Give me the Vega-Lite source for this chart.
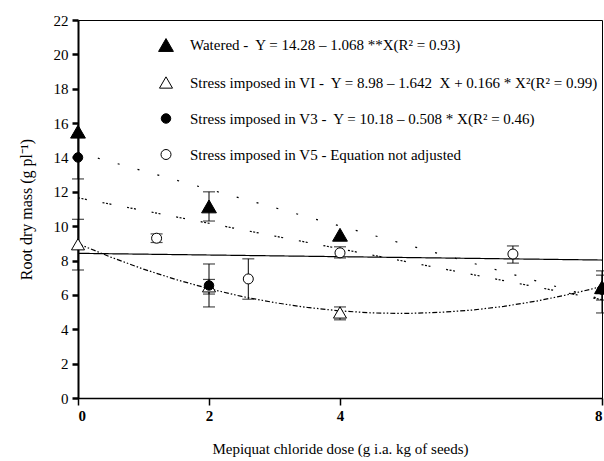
{
  "$schema": "https://vega.github.io/schema/vega-lite/v6.json",
  "width": 524,
  "height": 378,
  "autosize": {"type": "none"},
  "padding": {"left": 78, "top": 20, "right": 2, "bottom": 63},
  "background": "white",
  "config": {
    "view": {"stroke": "black", "strokeWidth": 1},
    "font": "Liberation Serif",
    "axis": {
      "grid": false,
      "domainColor": "black",
      "tickColor": "black",
      "labelColor": "black",
      "titleColor": "black",
      "labelFont": "Liberation Serif",
      "titleFont": "Liberation Serif",
      "titleFontWeight": "normal"
    },
    "legend": {
      "labelFont": "Liberation Serif",
      "labelFontSize": 15,
      "labelColor": "black",
      "labelLimit": 0,
      "symbolStrokeColor": "black",
      "symbolStrokeWidth": 1,
      "symbolOpacity": 1,
      "padding": 0
    }
  },
  "datasets": {
    "pts": [
      {"series": "V5", "dose": 1.2, "mass": 9.3},
      {"series": "V5", "dose": 2.6, "mass": 6.93},
      {"series": "V5", "dose": 4, "mass": 8.45},
      {"series": "V5", "dose": 6.64, "mass": 8.38},
      {"series": "VI", "dose": 0, "mass": 8.95},
      {"series": "VI", "dose": 2, "mass": 6.5},
      {"series": "VI", "dose": 4, "mass": 4.98},
      {"series": "VI", "dose": 8, "mass": 6.4},
      {"series": "V3", "dose": 0, "mass": 14.0},
      {"series": "V3", "dose": 2, "mass": 6.55},
      {"series": "V3", "dose": 8, "mass": 6.3},
      {"series": "Watered", "dose": 0, "mass": 15.5},
      {"series": "Watered", "dose": 2, "mass": 11.15},
      {"series": "Watered", "dose": 4, "mass": 9.5},
      {"series": "Watered", "dose": 8, "mass": 6.45}
    ],
    "errs": [
      {"series": "V5", "dose": 1.2, "lo": 9.05, "hi": 9.55},
      {"series": "V5", "dose": 2.6, "lo": 5.75, "hi": 8.1},
      {"series": "V5", "dose": 4, "lo": 8.15, "hi": 8.8},
      {"series": "V5", "dose": 6.64, "lo": 7.85, "hi": 8.85},
      {"series": "VI", "dose": 0, "lo": 7.45, "hi": 10.4},
      {"series": "VI", "dose": 2, "lo": 5.3, "hi": 7.8},
      {"series": "VI", "dose": 4, "lo": 4.55, "hi": 5.3},
      {"series": "V3", "dose": 0, "lo": 12.75, "hi": 15.3},
      {"series": "V3", "dose": 2, "lo": 6.05, "hi": 6.9},
      {"series": "V3", "dose": 8, "lo": 4.95, "hi": 7.4},
      {"series": "Watered", "dose": 2, "lo": 10.3, "hi": 12.0},
      {"series": "Watered", "dose": 8, "lo": 5.7, "hi": 7.15}
    ],
    "lines": [
      {"curve": "W", "dose": 0, "mass": 14.28},
      {"curve": "W", "dose": 8, "mass": 5.74},
      {"curve": "V3", "dose": 0, "mass": 11.65},
      {"curve": "V3", "dose": 8, "mass": 5.72},
      {"curve": "V5", "dose": 0, "mass": 8.42},
      {"curve": "V5", "dose": 8, "mass": 8.03},
      {"curve": "V1", "dose": 0, "mass": 8.98},
      {"curve": "V1", "dose": 0.5, "mass": 8.2},
      {"curve": "V1", "dose": 1, "mass": 7.5},
      {"curve": "V1", "dose": 1.5, "mass": 6.89},
      {"curve": "V1", "dose": 2, "mass": 6.36},
      {"curve": "V1", "dose": 2.5, "mass": 5.91},
      {"curve": "V1", "dose": 3, "mass": 5.55},
      {"curve": "V1", "dose": 3.5, "mass": 5.27},
      {"curve": "V1", "dose": 4, "mass": 5.07},
      {"curve": "V1", "dose": 4.5, "mass": 4.95},
      {"curve": "V1", "dose": 5, "mass": 4.92},
      {"curve": "V1", "dose": 5.5, "mass": 4.98},
      {"curve": "V1", "dose": 6, "mass": 5.11},
      {"curve": "V1", "dose": 6.5, "mass": 5.33},
      {"curve": "V1", "dose": 7, "mass": 5.64},
      {"curve": "V1", "dose": 7.5, "mass": 6.03},
      {"curve": "V1", "dose": 8, "mass": 6.49}
    ]
  },
  "encoding": {
    "x": {
      "field": "dose",
      "type": "quantitative",
      "title": "Mepiquat chloride dose (g i.a. kg of seeds)",
      "scale": {"domain": [0, 8], "nice": false, "zero": false},
      "axis": {
        "values": [0, 2, 4, 8],
        "labelFontSize": 15,
        "labelFontWeight": "bold",
        "tickSize": 7,
        "tickWidth": 1.5,
        "domainWidth": 1.5,
        "labelPadding": 3,
        "titleFontSize": 15,
        "titlePadding": 18
      }
    },
    "y": {
      "field": "mass",
      "type": "quantitative",
      "title": "Root dry mass (g pl⁻¹)",
      "scale": {"domain": [0, 22], "nice": false},
      "axis": {
        "values": [0, 2, 4, 6, 8, 10, 12, 14, 16, 18, 20, 22],
        "labelFontSize": 15,
        "tickSize": 6,
        "tickWidth": 2.5,
        "domainWidth": 2,
        "labelPadding": 4,
        "titleFontSize": 16,
        "titlePadding": 19
      }
    }
  },
  "layer": [
    {
      "data": {"name": "lines"},
      "mark": {"type": "line", "color": "black", "strokeWidth": 1.2},
      "encoding": {
        "strokeDash": {
          "field": "curve",
          "type": "nominal",
          "legend": null,
          "scale": {
            "domain": ["W", "V3", "V5", "V1"],
            "range": [[2, 18.6], [2, 1.5, 2, 1.5, 2, 16], [1, 0], [5, 2, 1.5, 2, 1.5, 2]]
          }
        }
      }
    },
    {
      "data": {"name": "errs"},
      "mark": {"type": "rule", "color": "black", "strokeWidth": 1},
      "encoding": {
        "y": {"field": "lo", "type": "quantitative", "title": "Root dry mass (g pl⁻¹)"},
        "y2": {"field": "hi"}
      }
    },
    {
      "data": {"name": "errs"},
      "mark": {"type": "tick", "orient": "horizontal", "color": "black", "size": 12, "thickness": 1.2},
      "encoding": {
        "y": {"field": "lo", "type": "quantitative", "title": "Root dry mass (g pl⁻¹)"}
      }
    },
    {
      "data": {"name": "errs"},
      "mark": {"type": "tick", "orient": "horizontal", "color": "black", "size": 12, "thickness": 1.2},
      "encoding": {
        "y": {"field": "hi", "type": "quantitative", "title": "Root dry mass (g pl⁻¹)"}
      }
    },
    {
      "data": {"name": "pts"},
      "mark": {"type": "point", "filled": true, "strokeWidth": 1, "opacity": 1},
      "encoding": {
        "shape": {
          "field": "series",
          "type": "nominal",
          "scale": {"domain": ["Watered", "VI", "V3", "V5"], "range": ["triangle-up", "triangle-up", "circle", "circle"]},
          "legend": {
            "title": null,
            "orient": "none",
            "legendX": 80,
            "legendY": 17,
            "rowPadding": 20,
            "labelOffset": 16,
            "labelExpr": "datum.label == 'Watered' ? 'Watered -\u00a0 Y = 14.28 – 1.068 **X(R² = 0.93)' : datum.label == 'VI' ? 'Stress imposed in VI -\u00a0 Y = 8.98 – 1.642\u00a0 X + 0.166 * X²(R² = 0.99)' : datum.label == 'V3' ? 'Stress imposed in V3 -\u00a0 Y = 10.18 – 0.508 * X(R² = 0.46)' : 'Stress imposed in V5 - Equation not adjusted'"
          }
        },
        "fill": {
          "field": "series",
          "type": "nominal",
          "scale": {"domain": ["Watered", "VI", "V3", "V5"], "range": ["black", "white", "black", "white"]}
        },
        "stroke": {
          "field": "series",
          "type": "nominal",
          "scale": {"domain": ["Watered", "VI", "V3", "V5"], "range": ["black", "black", "black", "black"]}
        },
        "size": {
          "field": "series",
          "type": "nominal",
          "scale": {"type": "ordinal", "domain": ["Watered", "VI", "V3", "V5"], "range": [220, 170, 90, 100]}
        }
      }
    }
  ]
}
